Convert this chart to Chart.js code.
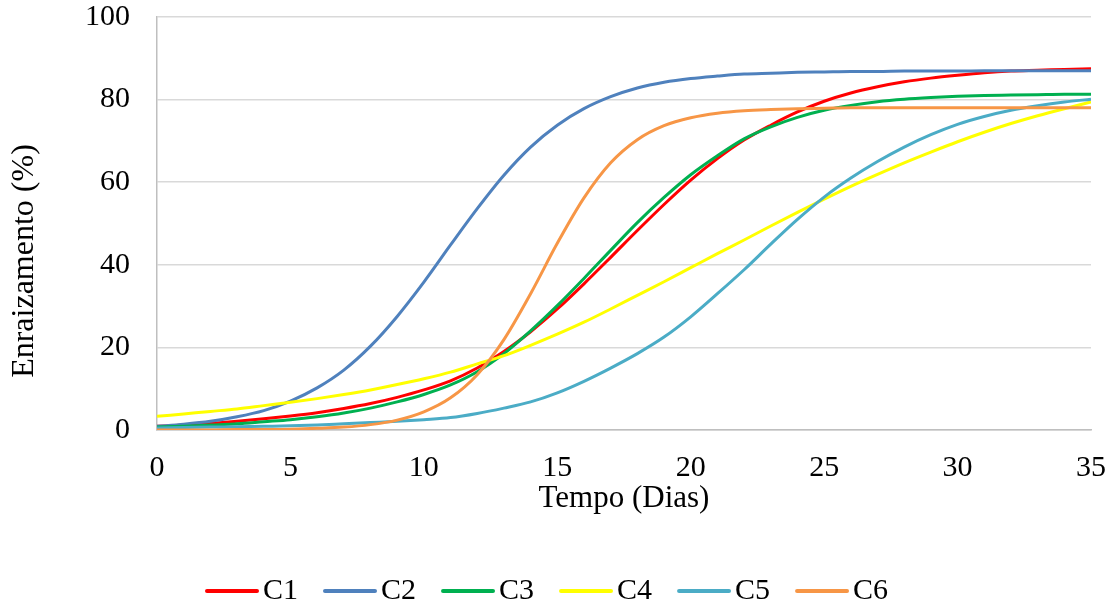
<!DOCTYPE html>
<html>
<head>
<meta charset="utf-8">
<script src="https://cdn.jsdelivr.net/npm/chart.js@4.4.0/dist/chart.umd.min.js"></script>
<style>
  html, body { margin: 0; background: #fff; }
</style>
</head>
<body>
<canvas id="grafico" width="1117" height="609"></canvas>
<script>
// dados (enraizamento % por dia)
const dias = [0, 1, 2, 3, 4, 5, 6, 7, 8, 9, 10, 11, 12, 13, 14, 15, 16, 17,
  18, 19, 20, 21, 22, 23, 24, 25, 26, 27, 28, 29, 30, 31, 32, 33, 34, 35];

const c1 = [0.9, 1.2, 1.6, 2.1, 2.7, 3.4, 4.2, 5.2, 6.4, 7.9, 9.7, 11.9, 15.0, 19.0, 23.8, 29.3, 35.4, 41.8,
  48.3, 54.6, 60.5, 65.7, 70.2, 73.8, 77.0, 79.6, 81.6, 83.1, 84.3, 85.2, 85.9, 86.5, 86.9, 87.1, 87.3, 87.5];
const c2 = [0.9, 1.4, 2.1, 3.2, 4.7, 7.0, 10.2, 14.5, 20.3, 27.5, 35.8, 44.8, 53.6, 61.7, 68.5, 73.8, 77.8, 80.7,
  82.8, 84.2, 85.1, 85.7, 86.2, 86.4, 86.6, 86.7, 86.8, 86.8, 86.9, 86.9, 86.9, 87.0, 87.0, 87.0, 87.0, 87.0];
const c3 = [0.7, 0.9, 1.2, 1.5, 2.0, 2.5, 3.2, 4.1, 5.3, 6.8, 8.6, 10.9, 14.1, 18.5, 24.0, 30.1, 36.7, 43.5,
  50.2, 56.3, 61.8, 66.4, 70.5, 73.4, 75.7, 77.4, 78.6, 79.5, 80.1, 80.5, 80.8, 81.0, 81.1, 81.2, 81.3, 81.3];
const c4 = [3.3, 3.9, 4.5, 5.1, 5.9, 6.7, 7.6, 8.6, 9.7, 11.0, 12.4, 14.0, 16.0, 18.0, 20.5, 23.2, 26.1, 29.3,
  32.6, 35.9, 39.3, 42.7, 46.0, 49.4, 52.7, 55.9, 59.0, 61.9, 64.7, 67.3, 69.8, 72.1, 74.2, 76.1, 77.8, 79.4];
const c5 = [0.5, 0.6, 0.7, 0.8, 0.9, 1.0, 1.2, 1.5, 1.8, 2.1, 2.5, 3.0, 4.0, 5.3, 6.8, 9.0, 11.8, 15.0,
  18.5, 22.5, 27.4, 33.0, 38.8, 45.0, 51.0, 56.4, 61.0, 65.0, 68.5, 71.5, 74.0, 75.9, 77.4, 78.5, 79.4, 80.1];
const c6 = [0.0, 0.0, 0.0, 0.1, 0.1, 0.2, 0.4, 0.7, 1.3, 2.4, 4.4, 7.8, 13.4, 21.9, 33.0, 45.2, 56.2, 64.7,
  70.3, 73.7, 75.6, 76.7, 77.3, 77.6, 77.8, 77.9, 78.0, 78.0, 78.0, 78.0, 78.0, 78.0, 78.0, 78.0, 78.0, 78.0];

const nomes = ["C1", "C2", "C3", "C4", "C5", "C6"];
const series = [c1, c2, c3, c4, c5, c6];
const cores = ["#FF0000", "#4F81BD", "#00B050", "#FFFF00", "#4BACC6", "#F79646"];
const tituloY = "Enraizamento (%)";

const fonte = "'Liberation Serif', 'Times New Roman', serif";

// legenda e título do eixo Y desenhados à mão (posição igual ao Excel)
const extrasPlugin = {
  id: "extras",
  afterDraw(chart) {
    const ctx = chart.ctx;
    ctx.save();
    ctx.fillStyle = "#000";
    ctx.textBaseline = "middle";

    // título Y, um pouco abaixo do centro da área
    ctx.save();
    ctx.font = "32px " + fonte;
    ctx.textAlign = "center";
    ctx.translate(25, 261);
    ctx.rotate(-Math.PI / 2);
    ctx.fillText(tituloY, 0, 0);
    ctx.restore();

    // legenda: linha + texto colados
    let x = 205;
    const y = 591;
    ctx.font = "30px " + fonte;
    ctx.textAlign = "left";
    ctx.lineWidth = 4;
    ctx.lineCap = "round";
    chart.data.datasets.forEach((ds) => {
      ctx.strokeStyle = ds.borderColor;
      ctx.beginPath();
      ctx.moveTo(x + 2, y);
      ctx.lineTo(x + 52, y);
      ctx.stroke();
      ctx.fillText(ds.label, x + 58, y);
      x += 58 + ctx.measureText(ds.label).width + 25;
    });
    ctx.restore();
  },
};

const datasets = series.map((valores, i) => ({
  label: nomes[i],
  data: valores.map((v, j) => ({ x: dias[j], y: v })),
  borderColor: cores[i],
  backgroundColor: cores[i],
  borderWidth: 3,
  pointRadius: 0,
  cubicInterpolationMode: "monotone",
  order: series.length - i,
}));

new Chart(document.getElementById("grafico"), {
  type: "line",
  data: { datasets: datasets },
  plugins: [extrasPlugin],
  options: {
    responsive: false,
    animation: false,
    layout: { padding: { top: 17, right: 26, bottom: 70, left: 0 } },
    plugins: {
      legend: { display: false },
      tooltip: { enabled: false },
    },
    scales: {
      x: {
        type: "linear",
        min: 0,
        max: 35,
        ticks: { stepSize: 5, color: "#000", padding: 20, font: { family: fonte, size: 30 } },
        grid: { display: false, drawTicks: false },
        border: { color: "#bfbfbf", width: 1.5 },
        title: {
          display: true,
          text: "Tempo (Dias)",
          color: "#000",
          font: { family: fonte, size: 31 },
          padding: { top: 0, bottom: 22 },
        },
        afterFit: (s) => {
          s.height = 109;
          s.paddingLeft = 0;
          s.paddingRight = 0;
        },
      },
      y: {
        min: 0,
        max: 100,
        ticks: { stepSize: 20, color: "#000", padding: 27, font: { family: fonte, size: 30 } },
        grid: { color: "#d9d9d9", lineWidth: 1.5, drawTicks: false },
        border: { color: "#bfbfbf", width: 1.5 },
        afterFit: (s) => {
          s.width = 157;
          s.paddingTop = 0;
          s.paddingBottom = 0;
        },
      },
    },
  },
});
</script>
</body>
</html>
